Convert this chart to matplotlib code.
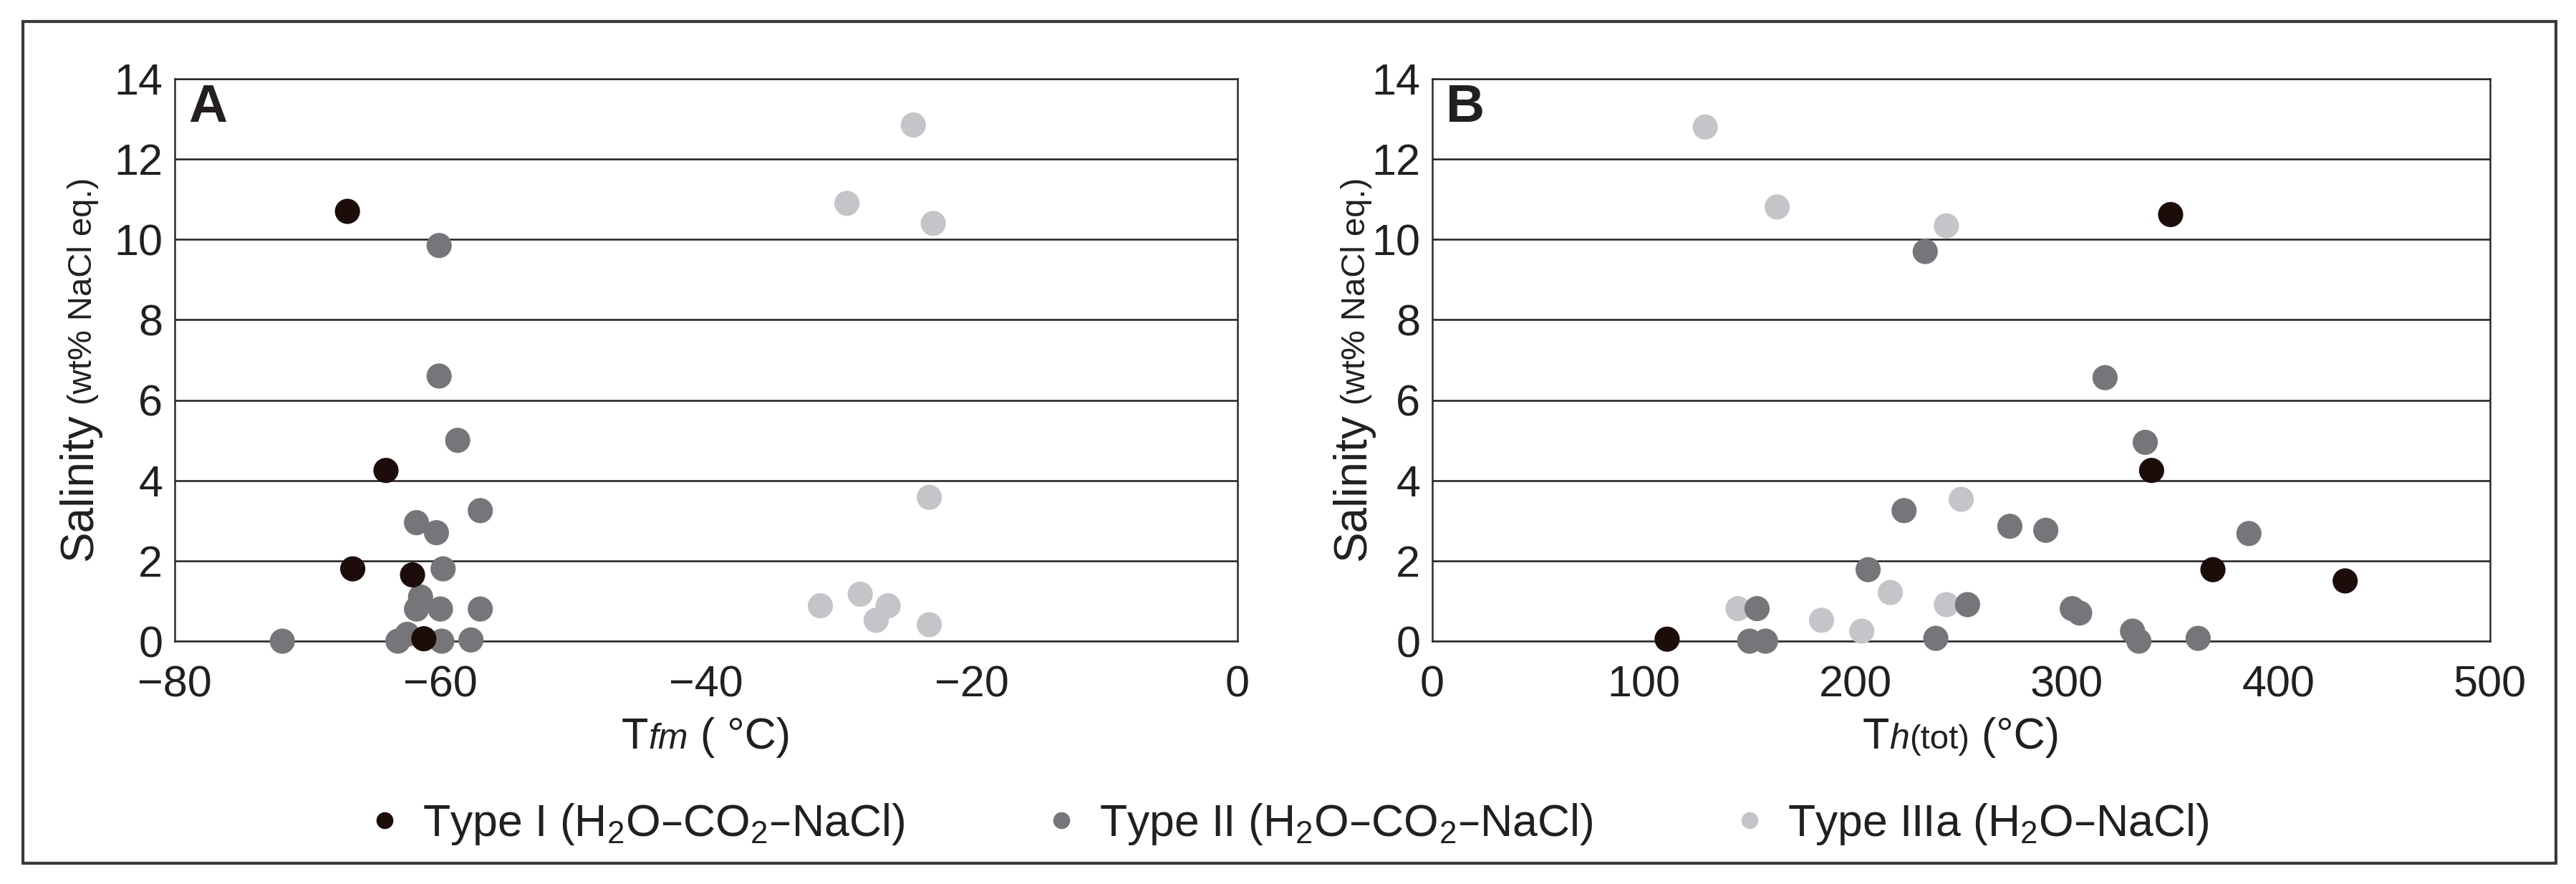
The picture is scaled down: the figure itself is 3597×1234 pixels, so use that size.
import matplotlib
matplotlib.use('Agg')
import matplotlib.pyplot as plt
from matplotlib.lines import Line2D
from matplotlib.patches import Rectangle
from matplotlib.offsetbox import TextArea, HPacker, AnchoredOffsetbox

plt.rcParams['font.family'] = ['Liberation Sans', 'DejaVu Sans']
TXT = '#231f20'

# Panel A: first melting temperature vs salinity
a_type1_x = [-67.0, -64.1, -66.6, -62.1, -61.25]
a_type1_y = [10.7, 4.25, 1.8, 1.65, 0.06]
a_type2_x = [-60.1, -60.1, -58.7, -57.0, -61.8, -60.3, -59.8, -61.5, -61.8,
             -60.0, -57.0, -62.5, -63.2, -59.9, -57.7, -71.9]
a_type2_y = [9.85, 6.6, 5.0, 3.25, 2.95, 2.7, 1.8, 1.1, 0.8,
             0.8, 0.8, 0.17, 0.0, 0.0, 0.03, 0.0]
a_type3_x = [-24.4, -29.4, -22.9, -23.2, -31.4, -28.4, -26.3, -27.2, -23.2]
a_type3_y = [12.85, 10.9, 10.4, 3.58, 0.88, 1.17, 0.88, 0.52, 0.41]

# Panel B: total homogenization temperature vs salinity
b_type1_x = [111, 349, 340, 369, 431.5]
b_type1_y = [0.05, 10.62, 4.25, 1.78, 1.5]
b_type2_x = [233, 318, 337, 223, 273, 290, 386, 206, 153.5, 253, 302.5, 306,
             331, 334, 362, 238, 150, 157.5]
b_type2_y = [9.7, 6.56, 4.95, 3.25, 2.86, 2.76, 2.68, 1.78, 0.81, 0.91, 0.81, 0.7,
             0.25, 0.0, 0.07, 0.07, 0.0, 0.0]
b_type3_x = [129, 163, 243, 250, 216.5, 144.5, 243, 184, 203]
b_type3_y = [12.8, 10.81, 10.34, 3.53, 1.21, 0.81, 0.91, 0.52, 0.25]

a_xticks = [-80, -60, -40, -20, 0]
b_xticks = [0, 100, 200, 300, 400, 500]
yticks = [0, 2, 4, 6, 8, 10, 12, 14]

labels = ['Type I (H$_\\mathregular{2}$O–CO$_\\mathregular{2}$–NaCl)',
          'Type II (H$_\\mathregular{2}$O–CO$_\\mathregular{2}$–NaCl)',
          'Type IIIa (H$_\\mathregular{2}$O–NaCl)']
colors = ['#1c0c0a', '#76767a', '#c5c5c9']

W, H = 3597, 1234
fig = plt.figure(figsize=(W / 100, H / 100), dpi=100)

axA = fig.add_axes([244 / W, 1 - 895 / H, 1484 / W, 785 / H])
axB = fig.add_axes([2000 / W, 1 - 895 / H, 1477 / W, 785 / H])

panels = [
    (axA, a_type1_x, a_type1_y, a_type2_x, a_type2_y, a_type3_x, a_type3_y, (-80, 0), a_xticks, 'A'),
    (axB, b_type1_x, b_type1_y, b_type2_x, b_type2_y, b_type3_x, b_type3_y, (0, 500), b_xticks, 'B'),
]

for ax, x1, y1, x2, y2, x3, y3, xlim, xt, letter in panels:
    ax.scatter(x3, y3, s=640, color=colors[2], edgecolors='none', zorder=3, clip_on=False)
    ax.scatter(x2, y2, s=640, color=colors[1], edgecolors='none', zorder=4, clip_on=False)
    ax.scatter(x1, y1, s=640, color=colors[0], edgecolors='none', zorder=5, clip_on=False)
    ax.set_xlim(*xlim)
    ax.set_ylim(0, 14)
    ax.set_xticks(xt)
    ax.set_yticks(yticks)
    ax.yaxis.grid(True, color='#1e1e1e', linewidth=1.8)
    ax.set_axisbelow(True)
    for sp in ax.spines.values():
        sp.set_color('#2a2a2a')
        sp.set_linewidth(1.8)
    ax.tick_params(axis='both', length=0, labelsize=44, colors=TXT)
    ax.tick_params(axis='x', pad=24)
    ax.tick_params(axis='y', pad=12)
    ax.annotate(letter, xy=(0, 1), xycoords='axes fraction', xytext=(14, -4),
                textcoords='offset points', ha='left', va='top',
                fontsize=54, fontweight='bold', color=TXT)

# y labels: "Salinity" large, "(wt% NaCl eq.)" small, on one baseline
for base_x in [128, 1906]:
    fig.text(base_x / W, 1 - 577 / H, 'Salinity', rotation=90, rotation_mode='anchor',
             ha='right', va='baseline', fontsize=46, color=TXT)
    fig.text(base_x / W, 1 - 565 / H, '(wt% NaCl eq.)', rotation=90, rotation_mode='anchor',
             ha='left', va='baseline', fontsize=34, color=TXT)


def add_xlabel(ax, parts):
    children = [TextArea(s, textprops=dict(fontsize=fs, fontstyle=st, color=TXT))
                for s, fs, st in parts]
    box = HPacker(children=children, align='baseline', pad=0, sep=0)
    anc = AnchoredOffsetbox(loc='upper center', child=box, pad=0, borderpad=0,
                            frameon=False, bbox_to_anchor=(0.5, -0.135),
                            bbox_transform=ax.transAxes)
    ax.add_artist(anc)


add_xlabel(axA, [('T', 44, 'normal'), ('fm', 36, 'italic'), (' ( °C)', 44, 'normal')])
add_xlabel(axB, [('T', 44, 'normal'), ('h', 36, 'italic'), ('(tot)', 34, 'normal'),
                 (' (°C)', 44, 'normal')])

handles = [Line2D([], [], linestyle='none', marker='o', markersize=17,
                  markerfacecolor=c, markeredgecolor='none') for c in colors]
fig.legend(handles, labels, loc='center', bbox_to_anchor=(0.5, 1 - 1150 / H),
           ncol=3, frameon=False, fontsize=45, handlelength=0.8, handletextpad=0.45,
           columnspacing=3.1, labelcolor=TXT)

fig.patches.append(Rectangle((32 / W, 1 - 1205 / H), (3569 - 32) / W, (1205 - 30) / H,
                             transform=fig.transFigure, fill=False,
                             edgecolor='#3a3a3a', linewidth=3))

fig.savefig('out.png', dpi=100)
